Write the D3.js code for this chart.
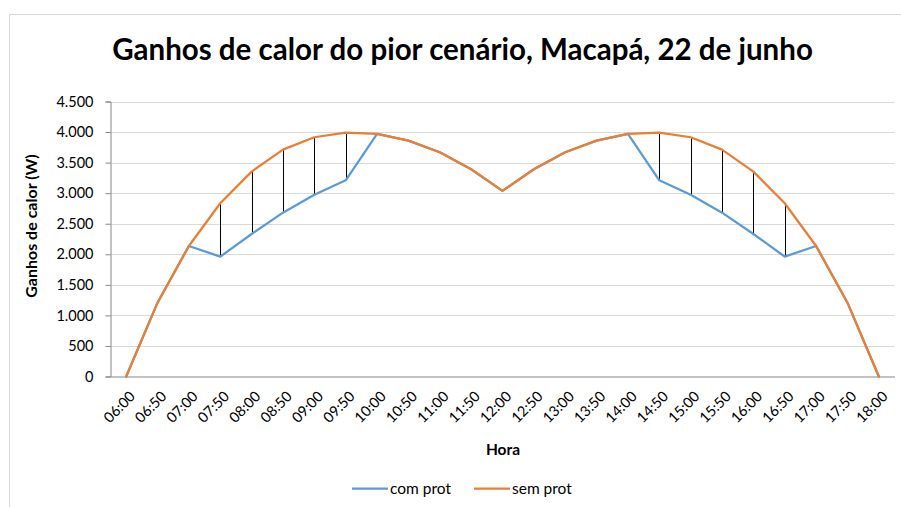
<!DOCTYPE html>
<html>
<head>
<meta charset="utf-8">
<script src="https://cdn.jsdelivr.net/npm/d3@7"></script>
<style>
  html, body { margin: 0; padding: 0; background: #fff; }
  svg { display: block; font-family: Lato, "Open Sans", "Liberation Sans", sans-serif; }
</style>
</head>
<body>
<svg id="chart" width="901" height="507"></svg>
<script>
// Horários do dia (eixo de categorias)
const horas = ["06:00","06:50","07:00","07:50","08:00","08:50","09:00","09:50","10:00","10:50","11:00","11:50","12:00",
               "12:50","13:00","13:50","14:00","14:50","15:00","15:50","16:00","16:50","17:00","17:50","18:00"];
// Ganhos de calor (W) com proteção solar
const comProt = [0,1208,2136,1961,2332,2681,2975,3211,3969,3859,3669,3391,3038,
                 3391,3669,3859,3969,3211,2975,2681,2332,1961,2136,1208,0];
// Ganhos de calor (W) sem proteção solar
const semProt = [0,1208,2136,2835,3352,3712,3915,3992,3969,3859,3669,3391,3038,
                 3391,3669,3859,3969,3992,3915,3712,3352,2835,2136,1208,0];
const yTicks = [0,500,1000,1500,2000,2500,3000,3500,4000,4500];
const seriesNames = ["com prot","sem prot"];
const colors = ["#5b9bd5","#ed7d31"];

const svg = d3.select("#chart");
const W = 901, H = 507;
const plot = { left: 110.5, right: 894.5, top: 101.5, bottom: 376.5 };
const FONT = "Lato, 'Open Sans', sans-serif";

// moldura da área do gráfico
svg.append("path")
  .attr("d", `M9.5,${H} V14.5 H${W}`)
  .attr("fill", "none").attr("stroke", "#d9d9d9").attr("stroke-width", 1);

const x = d3.scaleBand().domain(horas).range([plot.left, plot.right]);
const cx = d => x(d) + x.bandwidth() / 2;
const y = d3.scaleLinear().domain([0, 4500]).range([plot.bottom, plot.top]);

const fmt = v => d3.format(",")(v).replace(/,/g, ".");

// linhas de grade horizontais
svg.append("g").selectAll("line").data(yTicks.filter(t => t > 0)).join("line")
  .attr("x1", plot.left).attr("x2", plot.right)
  .attr("y1", d => Math.round(y(d)) + 0.5).attr("y2", d => Math.round(y(d)) + 0.5)
  .attr("stroke", "#d9d9d9").attr("stroke-width", 1);

// eixo Y
const yAxis = d3.axisLeft(y).tickValues(yTicks).tickFormat(fmt).tickSize(5).tickPadding(12);
const gy = svg.append("g").attr("transform", `translate(${plot.left},0)`).call(yAxis);
gy.select(".domain").attr("stroke", "#868686");
gy.selectAll(".tick line").attr("stroke", "#868686");
gy.selectAll(".tick text").attr("font-size", 14.5).attr("fill", "#000").attr("font-family", FONT);

// eixo X
const xAxis = d3.axisBottom(x).tickSize(0).tickPadding(0);
const gx = svg.append("g").attr("transform", `translate(0,${plot.bottom})`).call(xAxis);
gx.select(".domain").attr("stroke", "#868686");
gx.selectAll(".tick text")
  .attr("font-size", 14.5).attr("fill", "#000").attr("font-family", FONT)
  .attr("text-anchor", "end")
  .attr("dy", null).attr("y", 0)
  .attr("transform", "translate(6,17) rotate(-45)")
  .attr("dominant-baseline", "central");

// linhas de queda entre as séries
svg.append("g").selectAll("line").data(horas).join("line")
  .attr("x1", d => Math.round(cx(d)) + 0.5).attr("x2", d => Math.round(cx(d)) + 0.5)
  .attr("y1", (d, i) => y(semProt[i])).attr("y2", (d, i) => y(comProt[i]))
  .attr("stroke", "#000").attr("stroke-width", 1);

// séries
const line = d3.line().x((d, i) => cx(horas[i])).y(d => y(d));
[comProt, semProt].forEach((s, k) => {
  svg.append("path").datum(s)
    .attr("d", line)
    .attr("fill", "none").attr("stroke", colors[k])
    .attr("stroke-width", 2.25).attr("stroke-linejoin", "round").attr("stroke-linecap", "round");
});

// título
svg.append("text")
  .attr("x", 462.5).attr("y", 60)
  .attr("text-anchor", "middle")
  .attr("font-size", 29.5).attr("font-weight", "bold")
  .attr("fill", "#000")
  .text("Ganhos de calor do pior cenário, Macapá, 22 de junho");

// título do eixo Y
svg.append("text")
  .attr("transform", "translate(37,226) rotate(-90)")
  .attr("text-anchor", "middle")
  .attr("font-size", 16).attr("font-weight", "bold").attr("fill", "#000")
  .text("Ganhos de calor (W)");

// título do eixo X
svg.append("text")
  .attr("x", 503).attr("y", 455)
  .attr("text-anchor", "middle")
  .attr("font-size", 15.5).attr("font-weight", "bold").attr("fill", "#000")
  .text("Hora");

// legenda
const legendX = [352, 474];
const lg = svg.append("g");
seriesNames.forEach((name, k) => {
  lg.append("line")
    .attr("x1", legendX[k]).attr("x2", legendX[k] + 36)
    .attr("y1", 488.5).attr("y2", 488.5)
    .attr("stroke", colors[k]).attr("stroke-width", 2.25);
  lg.append("text")
    .attr("x", legendX[k] + 38).attr("y", 493.5)
    .attr("font-size", 15.5).attr("fill", "#000").attr("font-family", FONT)
    .text(name);
});
</script>
</body>
</html>
